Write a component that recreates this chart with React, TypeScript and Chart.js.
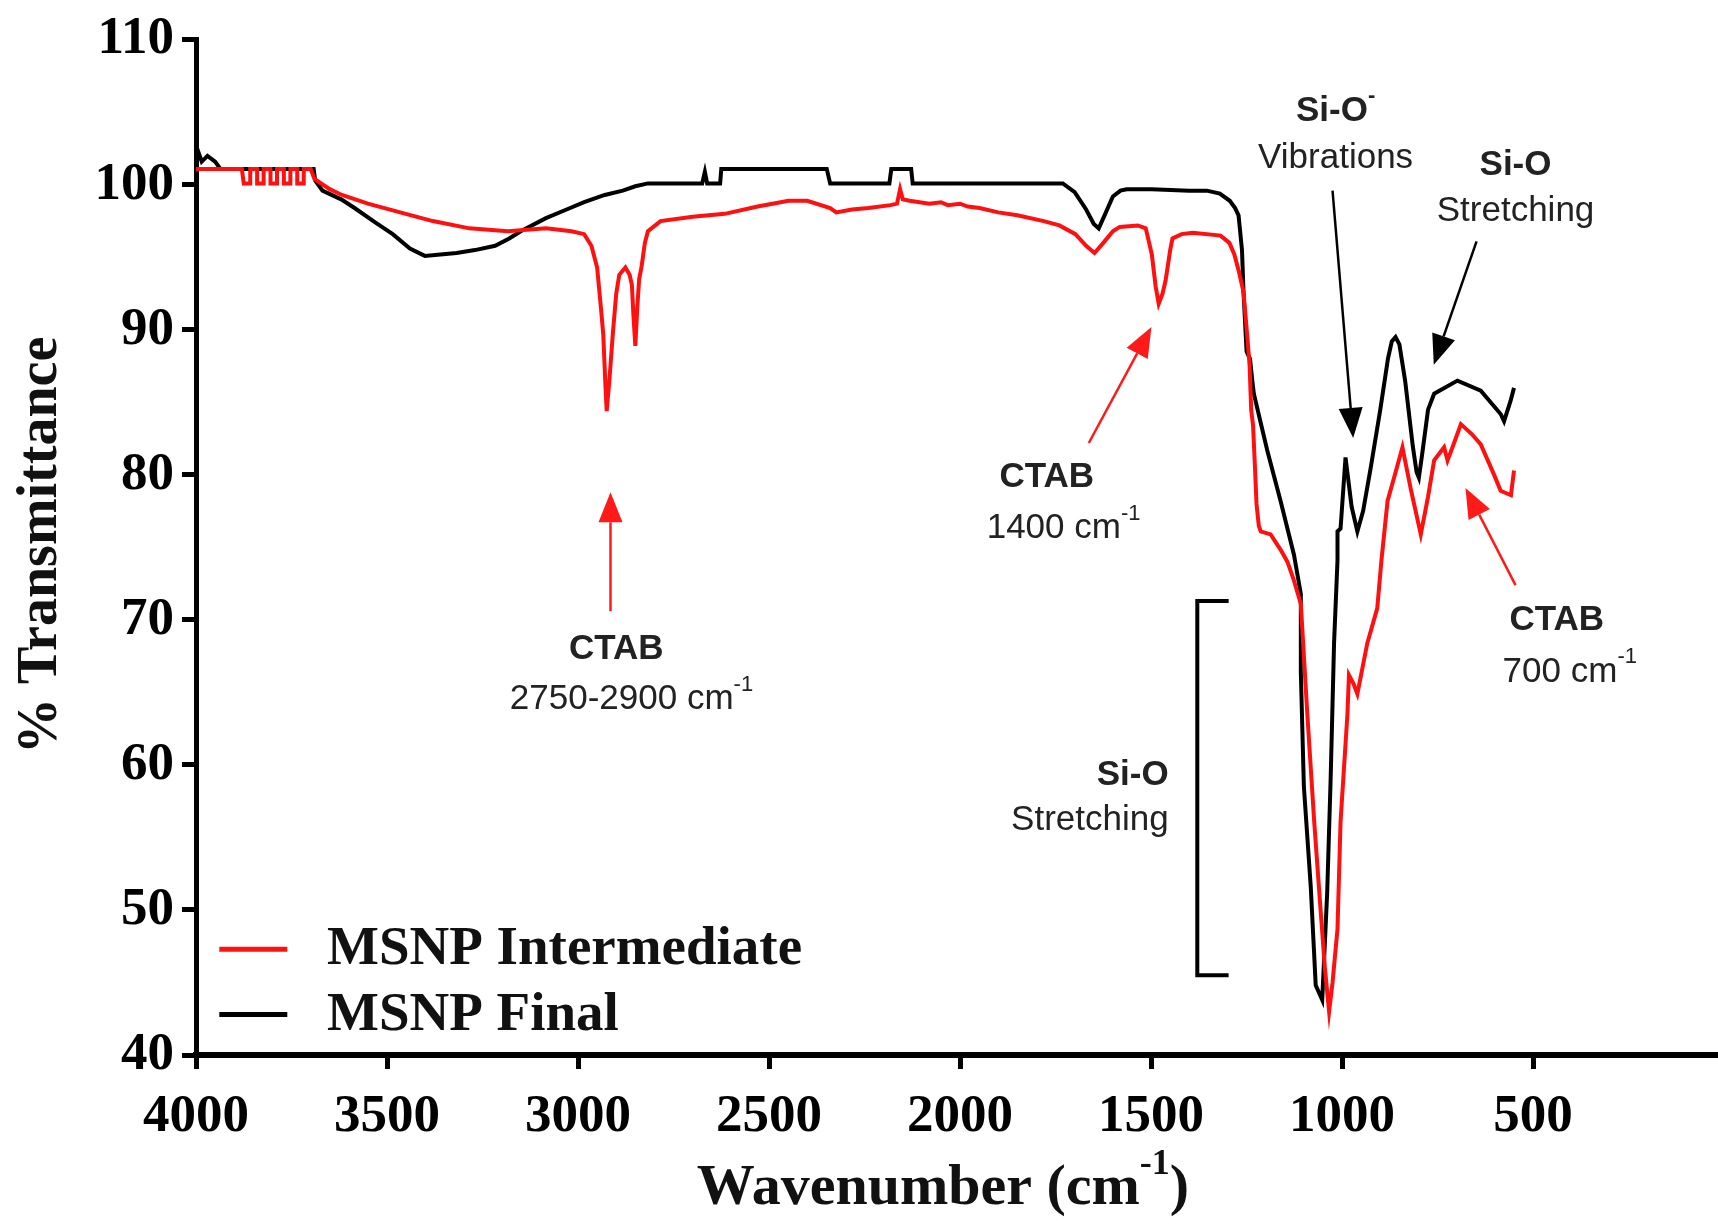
import React, { useEffect, useRef } from "react";
import { Chart, registerables } from "chart.js";

Chart.register(...registerables);

const X_TICKS = [4000, 3500, 3000, 2500, 2000, 1500, 1000, 500];
const Y_TICKS = [40, 50, 60, 70, 80, 90, 100, 110];

const SERIES_NAMES = ["MSNP Intermediate", "MSNP Final"];
const SERIES_COLORS = ["#ff1010", "#000000"];

const WN_INTERMEDIATE = [
  4000, 3990, 3880, 3875, 3858, 3858, 3840, 3840, 3823, 3823, 3805, 3805, 3788, 3788, 3770, 3770,
  3753, 3753, 3735, 3735, 3718, 3718, 3700, 3690, 3650, 3618, 3550, 3451, 3380, 3284, 3184, 3084,
  3017, 2984, 2965, 2950, 2940, 2934, 2928, 2925, 2918, 2909, 2900, 2892, 2876, 2865, 2859, 2855,
  2850, 2845, 2840, 2834, 2825, 2817, 2784, 2700, 2616, 2530, 2449, 2400, 2340, 2324, 2283, 2240,
  2182, 2165, 2157, 2150, 2132, 2080, 2050, 2032, 2000, 1980, 1949, 1900, 1850, 1781, 1740, 1698,
  1670, 1648, 1625, 1600, 1582, 1535, 1514, 1505, 1498, 1488, 1480, 1470, 1462, 1450, 1444, 1420,
  1391, 1318, 1295, 1282, 1270, 1258, 1248, 1242, 1238, 1233, 1228, 1224, 1218, 1213, 1187, 1160,
  1143, 1127, 1108, 1091, 1073, 1056, 1045, 1034, 1025, 1012, 1004, 986, 982, 970, 960, 934, 908,
  897, 881, 864, 842, 820, 794, 775, 759, 733, 724, 711, 689, 660, 637, 602, 585, 567, 558, 550,
];
const T_INTERMEDIATE = [
  101.1, 101.1, 101.1, 100.1, 100.1, 101.1, 101.1, 100.1, 100.1, 101.1, 101.1, 100.1, 100.1, 101.1, 101.1, 100.1,
  100.1, 101.1, 101.1, 100.1, 100.1, 101.1, 101.1, 100.4, 99.7, 99.3, 98.7, 98.0, 97.5, 97.0, 96.8, 97.0,
  96.8, 96.6, 95.8, 94.3, 91.5, 89.7, 86.0, 84.4, 86.5, 89.7, 92.5, 93.8, 94.3, 93.8, 93.1, 91.0,
  88.9, 91.5, 93.5, 94.3, 96.0, 96.8, 97.5, 97.8, 98.0, 98.5, 98.9, 98.9, 98.4, 98.1, 98.3, 98.4,
  98.6, 98.7, 99.7, 99.0, 98.9, 98.7, 98.8, 98.6, 98.7, 98.5, 98.4, 98.1, 97.9, 97.5, 97.2, 96.6,
  95.8, 95.3, 96.0, 96.8, 97.1, 97.2, 97.0, 96.0, 95.2, 93.0, 91.8, 92.5, 93.4, 95.5, 96.3, 96.6,
  96.7, 96.5, 96.0, 95.2, 94.0, 92.6, 89.5, 87.5, 84.5, 83.4, 80.5, 78.0, 76.5, 76.1, 75.9, 74.8,
  74.0, 72.8, 71.1, 63.5, 56.1, 49.9, 46.0, 43.0, 45.0, 48.7, 56.1, 63.5, 66.2, 65.6, 64.9, 68.4, 70.8,
  74.1, 78.2, 79.8, 81.9, 79.0, 75.9, 78.5, 81.0, 81.9, 81.0, 81.9, 83.5, 82.8, 82.1, 80.0, 78.9, 78.7, 78.6, 80.3,
];

const WN_FINAL = [
  4000, 3993, 3985, 3970, 3950, 3936, 3800, 3692, 3688, 3669, 3620, 3585, 3530, 3485, 3440, 3401,
  3360, 3318, 3270, 3217, 3180, 3150, 3084, 3030, 2984, 2930, 2883, 2850, 2817, 2675, 2668, 2662,
  2628, 2625, 2349, 2340, 2185, 2180, 2128, 2124, 1731, 1700, 1670, 1650, 1637, 1620, 1600, 1580,
  1564, 1498, 1400, 1354, 1320, 1294, 1280, 1271, 1262, 1258, 1250, 1241, 1235, 1231, 1196, 1175,
  1161, 1126, 1108, 1108, 1100, 1082, 1069, 1052, 1039, 1030, 1021, 1012, 1012, 1004, 991, 975,
  960, 945, 925, 900, 880, 870, 860, 850, 835, 815, 805, 799, 790, 775, 759, 698, 637, 585, 576,
  559, 550,
];
const T_FINAL = [
  101.8, 102.2, 101.6, 102.0, 101.6, 101.1, 101.1, 101.1, 100.3, 99.6, 99.0, 98.4, 97.4, 96.6, 95.6, 95.1,
  95.2, 95.3, 95.5, 95.8, 96.3, 96.8, 97.7, 98.3, 98.8, 99.3, 99.6, 99.9, 100.1, 100.1, 100.9, 100.1,
  100.1, 101.1, 101.1, 100.1, 100.1, 101.1, 101.1, 100.1, 100.1, 99.5, 98.3, 97.3, 97.0, 98.0, 99.2, 99.6,
  99.7, 99.7, 99.6, 99.6, 99.4, 98.9, 98.4, 97.9, 95.5, 92.6, 88.5, 88.0, 86.5, 85.6, 81.7, 79.6,
  78.2, 74.5, 71.8, 66.4, 58.5, 51.6, 44.8, 43.8, 51.2, 59.0, 68.4, 74.1, 76.1, 76.3, 81.2, 77.8,
  76.1, 77.5, 80.5, 84.5, 88.0, 89.2, 89.5, 89.0, 86.5, 82.0, 80.2, 79.8, 81.5, 84.5, 85.6, 86.5, 85.8, 84.2, 83.7,
  85.1, 86.0,
];

const SANS = '"Liberation Sans", Arial, sans-serif';
const SERIF = '"Liberation Serif", "Times New Roman", serif';

type Part = { text: string; sup?: boolean };

function drawRich(
  ctx: CanvasRenderingContext2D,
  parts: Part[],
  x: number,
  y: number,
  size: number,
  weight: string,
  family: string,
  align: "left" | "center" | "right",
  color: string
) {
  const supSize = Math.round(size * 0.62);
  const widths = parts.map((p) => {
    ctx.font = `${weight} ${p.sup ? supSize : size}px ${family}`;
    return ctx.measureText(p.text).width;
  });
  const total = widths.reduce((a, b) => a + b, 0);
  let cx = align === "left" ? x : align === "center" ? x - total / 2 : x - total;
  ctx.fillStyle = color;
  ctx.textAlign = "left";
  ctx.textBaseline = "middle";
  parts.forEach((p, i) => {
    ctx.font = `${weight} ${p.sup ? supSize : size}px ${family}`;
    ctx.fillText(p.text, cx, p.sup ? y - size * 0.42 : y);
    cx += widths[i];
  });
}

function drawArrow(
  ctx: CanvasRenderingContext2D,
  x1: number,
  y1: number,
  x2: number,
  y2: number,
  color: string,
  width: number,
  headLen: number,
  headW: number
) {
  const ang = Math.atan2(y2 - y1, x2 - x1);
  const bx = x2 - headLen * Math.cos(ang);
  const by = y2 - headLen * Math.sin(ang);
  ctx.strokeStyle = color;
  ctx.lineWidth = width;
  ctx.beginPath();
  ctx.moveTo(x1, y1);
  ctx.lineTo(bx, by);
  ctx.stroke();
  ctx.fillStyle = color;
  ctx.beginPath();
  ctx.moveTo(x2, y2);
  ctx.lineTo(bx + (headW / 2) * Math.sin(ang), by - (headW / 2) * Math.cos(ang));
  ctx.lineTo(bx - (headW / 2) * Math.sin(ang), by + (headW / 2) * Math.cos(ang));
  ctx.closePath();
  ctx.fill();
}

const annotationPlugin = {
  id: "ftirAnnotations",
  afterDraw(chart: any) {
    const { ctx, chartArea, scales } = chart;
    const px = (v: number) => scales.x.getPixelForValue(v);
    const py = (v: number) => scales.y.getPixelForValue(v);
    const TXT = "#222";
    const RED = "#ff1a1a";
    const FS = 35;
    ctx.save();

    // CTAB 2750-2900
    drawRich(ctx, [{ text: "CTAB" }], px(2900), py(68.0), FS, "bold", SANS, "center", TXT);
    drawRich(ctx, [{ text: "2750-2900 cm" }, { text: "-1", sup: true }], px(2860), py(64.5), FS, "normal", SANS, "center", TXT);
    drawArrow(ctx, px(2915), py(70.6), px(2915), py(78.8), RED, 2.5, 30, 24);

    // CTAB 1400
    drawRich(ctx, [{ text: "CTAB" }], px(1773), py(79.8), FS, "bold", SANS, "center", TXT);
    drawRich(ctx, [{ text: "1400 cm" }, { text: "-1", sup: true }], px(1729), py(76.3), FS, "normal", SANS, "center", TXT);
    drawArrow(ctx, px(1663), py(82.2), px(1499), py(90.2), RED, 2.5, 30, 24);

    // Si-O- vibrations
    drawRich(ctx, [{ text: "Si-O" }, { text: "-", sup: true }], px(1017), py(105.1), FS, "bold", SANS, "center", TXT);
    drawRich(ctx, [{ text: "Vibrations" }], px(1017), py(101.8), FS, "normal", SANS, "center", TXT);
    drawArrow(ctx, px(1025), py(99.6), px(971), py(82.55), "#000", 2.5, 30, 24);

    // Si-O stretching (right)
    drawRich(ctx, [{ text: "Si-O" }], px(546), py(101.35), FS, "bold", SANS, "center", TXT);
    drawRich(ctx, [{ text: "Stretching" }], px(546), py(98.2), FS, "normal", SANS, "center", TXT);
    drawArrow(ctx, px(648), py(96.1), px(760), py(87.6), "#000", 2.5, 30, 24);

    // CTAB 700
    drawRich(ctx, [{ text: "CTAB" }], px(438), py(70.0), FS, "bold", SANS, "center", TXT);
    drawRich(ctx, [{ text: "700 cm" }, { text: "-1", sup: true }], px(404), py(66.4), FS, "normal", SANS, "center", TXT);
    drawArrow(ctx, px(546), py(72.4), px(677), py(79.1), RED, 2.5, 30, 24);

    // Si-O stretching bracket
    drawRich(ctx, [{ text: "Si-O" }], px(1454), py(59.3), FS, "bold", SANS, "right", TXT);
    drawRich(ctx, [{ text: "Stretching" }], px(1454), py(56.2), FS, "normal", SANS, "right", TXT);
    ctx.strokeStyle = "#000";
    ctx.lineWidth = 4;
    ctx.beginPath();
    ctx.moveTo(px(1297), py(71.3));
    ctx.lineTo(px(1379), py(71.3));
    ctx.lineTo(px(1379), py(45.5));
    ctx.lineTo(px(1297), py(45.5));
    ctx.stroke();

    // Legend
    const legendY = [py(47.3), py(42.8)];
    SERIES_NAMES.forEach((name, i) => {
      ctx.strokeStyle = SERIES_COLORS[i];
      ctx.lineWidth = 5;
      ctx.beginPath();
      ctx.moveTo(px(3939), legendY[i]);
      ctx.lineTo(px(3761), legendY[i]);
      ctx.stroke();
      drawRich(ctx, [{ text: name }], px(3657), legendY[i] + 1, 55, "bold", SERIF, "left", "#111");
    });

    // Axis titles
    drawRich(
      ctx,
      [{ text: "Wavenumber (cm" }, { text: "-1", sup: true }, { text: ")" }],
      (chartArea.left + chartArea.right) / 2 - 14,
      chartArea.bottom + 134,
      58,
      "bold",
      SERIF,
      "center",
      "#111"
    );
    ctx.save();
    ctx.translate(chartArea.left - 154, (chartArea.top + chartArea.bottom) / 2 - 2);
    ctx.rotate(-Math.PI / 2);
    drawRich(ctx, [{ text: "% Transmittance" }], 0, 0, 56, "bold", SERIF, "center", "#111");
    ctx.restore();

    ctx.restore();
  },
};

export default function App() {
  const canvasRef = useRef<HTMLCanvasElement | null>(null);

  useEffect(() => {
    if (!canvasRef.current) return;
    const intermediate = WN_INTERMEDIATE.map((x, i) => ({ x, y: T_INTERMEDIATE[i] }));
    const final = WN_FINAL.map((x, i) => ({ x, y: T_FINAL[i] }));
    const chart = new Chart(canvasRef.current, {
      type: "scatter",
      data: {
        datasets: [
          {
            label: SERIES_NAMES[0],
            data: intermediate,
            showLine: true,
            borderColor: SERIES_COLORS[0],
            backgroundColor: SERIES_COLORS[0],
            borderWidth: 4,
            pointRadius: 0,
            tension: 0,
          },
          {
            label: SERIES_NAMES[1],
            data: final,
            showLine: true,
            borderColor: SERIES_COLORS[1],
            backgroundColor: SERIES_COLORS[1],
            borderWidth: 4,
            pointRadius: 0,
            tension: 0,
          },
        ],
      },
      options: {
        responsive: false,
        animation: false,
        devicePixelRatio: 1,
        layout: { padding: { top: 38, right: 0, left: 0, bottom: 0 } },
        plugins: { legend: { display: false }, tooltip: { enabled: false } },
        scales: {
          x: {
            type: "linear",
            reverse: true,
            min: 16,
            max: 4000,
            afterBuildTicks: (s: any) => {
              s.ticks = [...X_TICKS].reverse().map((v) => ({ value: v }));
            },
            afterFit: (s: any) => {
              s.height = 170;
            },
            grid: {
              display: true,
              drawOnChartArea: false,
              drawTicks: true,
              tickLength: 14,
              tickWidth: 5,
              tickColor: "#000",
            },
            border: { display: true, color: "#000", width: 6 },
            ticks: {
              color: "#000",
              font: { family: SERIF, size: 53, weight: "bold" },
              padding: 17,
              maxRotation: 0,
              autoSkip: false,
              callback: (v: any) => String(v),
            },
          },
          y: {
            type: "linear",
            min: 40,
            max: 110,
            afterBuildTicks: (s: any) => {
              s.ticks = Y_TICKS.map((v) => ({ value: v }));
            },
            afterFit: (s: any) => {
              s.width = 196;
            },
            grid: {
              display: true,
              drawOnChartArea: false,
              drawTicks: true,
              tickLength: 14,
              tickWidth: 5,
              tickColor: "#000",
            },
            border: { display: true, color: "#000", width: 5 },
            ticks: {
              color: "#000",
              font: { family: SERIF, size: 53, weight: "bold" },
              padding: 8,
              autoSkip: false,
              callback: (v: any) => String(v),
            },
          },
        },
      },
      plugins: [annotationPlugin],
    } as any);
    return () => chart.destroy();
  }, []);

  return (
    <div
      style={{
        position: "absolute",
        left: 0,
        top: 0,
        width: 1718,
        height: 1225,
        background: "#fff",
      }}
    >
      <canvas ref={canvasRef} width={1718} height={1225} style={{ display: "block" }} />
    </div>
  );
}
